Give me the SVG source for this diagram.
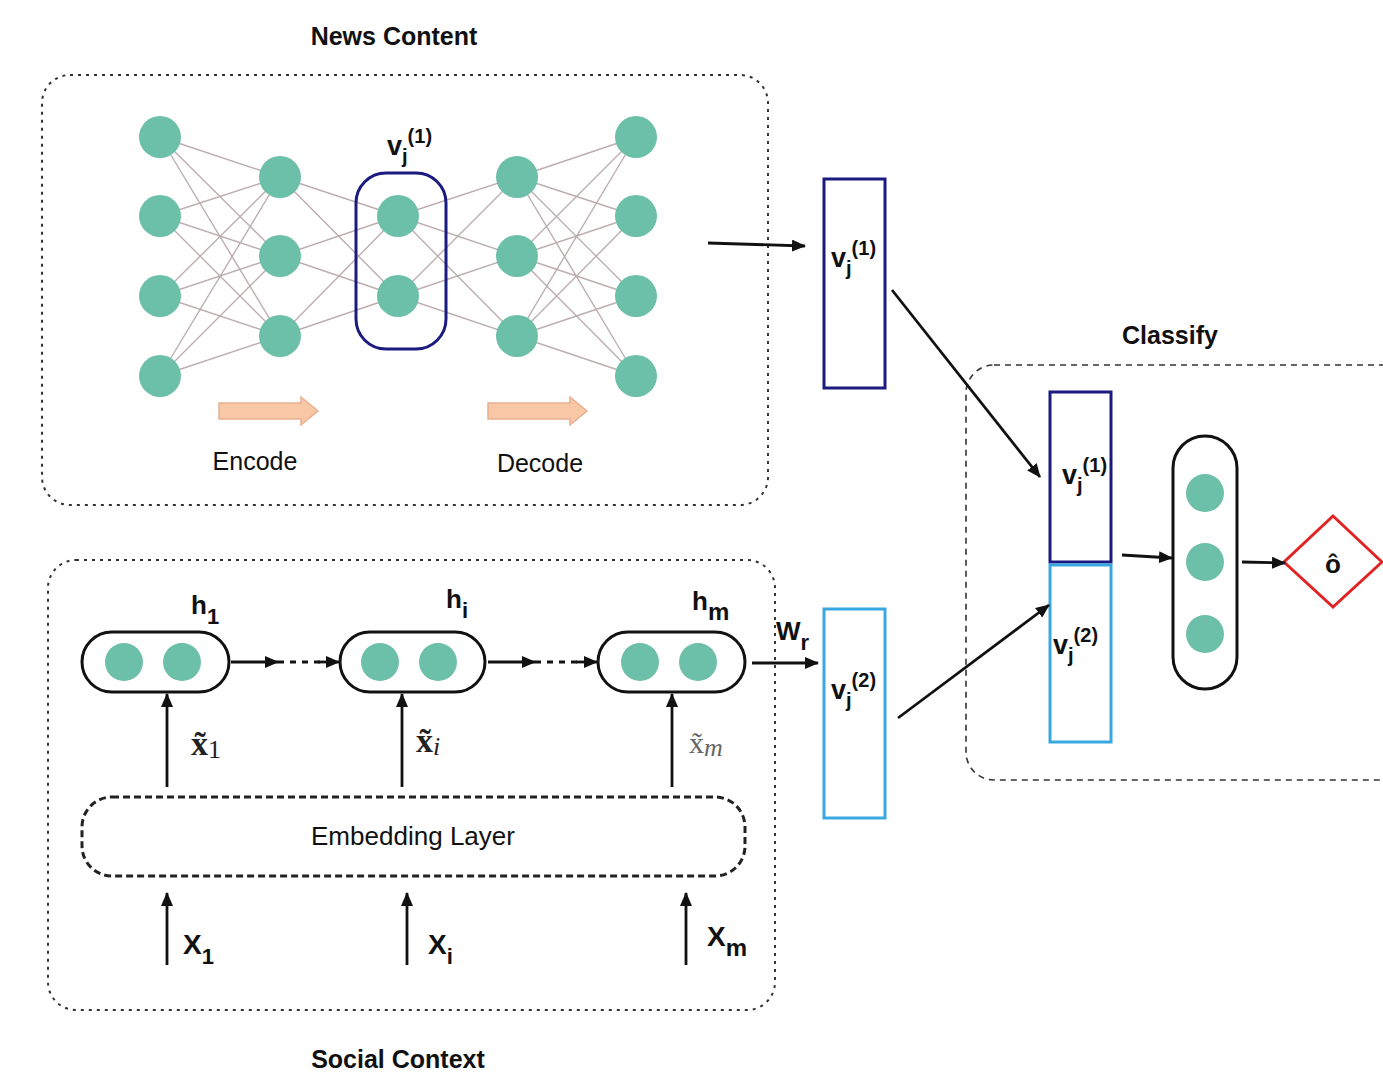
<svg xmlns="http://www.w3.org/2000/svg" width="1383" height="1078" viewBox="0 0 1383 1078">
<defs>
<style>
.t{font-family:"Liberation Sans",Arial,sans-serif;fill:#111}
.b{font-family:"Liberation Sans",Arial,sans-serif;font-weight:bold;fill:#111}
.m{font-family:"Liberation Serif","DejaVu Serif",serif;fill:#222}
.node{fill:#6cbfa8}
.edge{stroke:#bdaeb0;stroke-width:1.4;fill:none}
.conn{stroke:#111;stroke-width:2.8;fill:none}
.dotbox{fill:none;stroke:#333;stroke-width:2;stroke-dasharray:3 5}
.dashbox{fill:none;stroke:#333;stroke-width:1.6;stroke-dasharray:6 5}
.pill{fill:#fff;stroke:#111;stroke-width:3}
.blockarrow{fill:#f8c7a6;stroke:#e8b090;stroke-width:1.5}
</style>
<marker id="ah" viewBox="0 0 14 12" refX="13" refY="6" markerWidth="14" markerHeight="12" markerUnits="userSpaceOnUse" orient="auto">
<path d="M0 0L14 6L0 12Z" fill="#111"/>
</marker>
</defs>
<rect width="1383" height="1078" fill="#fff"/>

<g id="news-content">
<rect class="dotbox" x="42" y="75" width="726" height="430" rx="28"/>
<text class="b" x="394" y="45" font-size="25" text-anchor="middle">News Content</text>
<path class="edge" d="M160 137L280 177M160 137L280 256M160 137L280 336M160 216L280 177M160 216L280 256M160 216L280 336M160 296L280 177M160 296L280 256M160 296L280 336M160 376L280 177M160 376L280 256M160 376L280 336M280 177L398 216M280 177L398 296M280 256L398 216M280 256L398 296M280 336L398 216M280 336L398 296M398 216L517 177M398 216L517 256M398 216L517 336M398 296L517 177M398 296L517 256M398 296L517 336M517 177L636 137M517 177L636 216M517 177L636 296M517 177L636 376M517 256L636 137M517 256L636 216M517 256L636 296M517 256L636 376M517 336L636 137M517 336L636 216M517 336L636 296M517 336L636 376"/>
<g>
<circle class="node" cx="160" cy="137" r="21"/><circle class="node" cx="160" cy="216" r="21"/><circle class="node" cx="160" cy="296" r="21"/><circle class="node" cx="160" cy="376" r="21"/>
<circle class="node" cx="280" cy="177" r="21"/><circle class="node" cx="280" cy="256" r="21"/><circle class="node" cx="280" cy="336" r="21"/>
<circle class="node" cx="398" cy="216" r="21"/><circle class="node" cx="398" cy="296" r="21"/>
<circle class="node" cx="517" cy="177" r="21"/><circle class="node" cx="517" cy="256" r="21"/><circle class="node" cx="517" cy="336" r="21"/>
<circle class="node" cx="636" cy="137" r="21"/><circle class="node" cx="636" cy="216" r="21"/><circle class="node" cx="636" cy="296" r="21"/><circle class="node" cx="636" cy="376" r="21"/>
</g>
<rect x="356" y="173" width="90" height="176" rx="30" fill="none" stroke="#1a1a80" stroke-width="3"/>
<text class="b" x="387" y="155" font-size="27">v<tspan dy="8" font-size="20">j</tspan><tspan dy="-20" font-size="20">(1)</tspan></text>
<path class="blockarrow" d="M219 403H301V397L318 411L301 425V419H219Z"/>
<path class="blockarrow" d="M488 403H570V397L587 411L570 425V419H488Z"/>
<text class="t" x="255" y="470" font-size="25" text-anchor="middle">Encode</text>
<text class="t" x="540" y="472" font-size="25" text-anchor="middle">Decode</text>
</g>

<g id="v1-vector">
<rect x="824" y="179" width="61" height="209" fill="#fff" stroke="#1a1a80" stroke-width="3"/>
<text class="b" x="831" y="267" font-size="27">v<tspan dy="8" font-size="20">j</tspan><tspan dy="-20" font-size="20">(1)</tspan></text>
</g>

<g id="classify">
<rect class="dashbox" x="966" y="365" width="460" height="415" rx="28"/>
<text class="b" x="1170" y="344" font-size="25" text-anchor="middle">Classify</text>
<rect x="1050" y="392" width="61" height="170" fill="#fff" stroke="#1a1a80" stroke-width="3"/>
<rect x="1050" y="565" width="61" height="177" fill="#fff" stroke="#3aa8e0" stroke-width="3"/>
<text class="b" x="1062" y="484" font-size="27">v<tspan dy="8" font-size="20">j</tspan><tspan dy="-20" font-size="20">(1)</tspan></text>
<text class="b" x="1053" y="654" font-size="27">v<tspan dy="8" font-size="20">j</tspan><tspan dy="-20" font-size="20">(2)</tspan></text>
</g>

<g id="classifier-layer">
<rect class="pill" x="1173" y="436" width="64" height="253" rx="32"/>
<circle class="node" cx="1205" cy="493" r="19"/><circle class="node" cx="1205" cy="562" r="19"/><circle class="node" cx="1205" cy="634" r="19"/>
</g>

<g id="output">
<path d="M1333 516L1382 562L1333 607L1284 562Z" fill="#fff" stroke="#e02424" stroke-width="3"/>
<text class="b" x="1333" y="573" font-size="26" text-anchor="middle">ô</text>
</g>

<g id="social-context">
<rect class="dotbox" x="48" y="560" width="727" height="450" rx="28"/>
<text class="b" x="398" y="1068" font-size="25" text-anchor="middle">Social Context</text>
<rect x="82" y="797" width="663" height="79" rx="30" fill="none" stroke="#222" stroke-width="3" stroke-dasharray="7 4"/>
<text class="t" x="413" y="845" font-size="25" text-anchor="middle" textLength="204" lengthAdjust="spacingAndGlyphs">Embedding Layer</text>
</g>

<g id="h1">
<rect class="pill" x="82" y="632" width="147" height="60" rx="30"/>
<circle class="node" cx="124" cy="662" r="19"/><circle class="node" cx="182" cy="662" r="19"/>
<text class="b" x="191" y="614" font-size="26">h<tspan dy="10" font-size="22">1</tspan></text>
</g>
<g id="hi">
<rect class="pill" x="340" y="632" width="145" height="60" rx="30"/>
<circle class="node" cx="380" cy="662" r="19"/><circle class="node" cx="438" cy="662" r="19"/>
<text class="b" x="446" y="608" font-size="26">h<tspan dy="10" font-size="22">i</tspan></text>
</g>
<g id="hm">
<rect class="pill" x="598" y="632" width="147" height="60" rx="30"/>
<circle class="node" cx="640" cy="662" r="19"/><circle class="node" cx="698" cy="662" r="19"/>
<text class="b" x="692" y="610" font-size="26">h<tspan dy="10" font-size="24">m</tspan></text>
</g>

<g id="v2-vector">
<rect x="824" y="609" width="61" height="209" fill="#fff" stroke="#3aa8e0" stroke-width="3"/>
<text class="b" x="831" y="699" font-size="27">v<tspan dy="8" font-size="20">j</tspan><tspan dy="-20" font-size="20">(2)</tspan></text>
</g>

<g id="labels">
<text class="b" x="776" y="640" font-size="26">W<tspan dy="10" font-size="22">r</tspan></text>
<text class="m" x="191" y="755" font-size="34" font-weight="bold">x̃<tspan dy="3" font-size="26" font-weight="normal">1</tspan></text>
<text class="m" x="416" y="752" font-size="34" font-weight="bold">x̃<tspan dy="3" font-size="26" font-style="italic" font-weight="normal">i</tspan></text>
<text class="m" x="689" y="753" font-size="30" style="fill:#666">x̃<tspan dy="3" font-size="26" font-style="italic">m</tspan></text>
<text class="b" x="183" y="954" font-size="28">X<tspan dy="10" font-size="22">1</tspan></text>
<text class="b" x="428" y="954" font-size="28">X<tspan dy="10" font-size="22">i</tspan></text>
<text class="b" x="707" y="946" font-size="28">X<tspan dy="10" font-size="24">m</tspan></text>
</g>

<g id="connectors">
<path class="conn" d="M708 243L805 246" marker-end="url(#ah)"/>
<path class="conn" d="M892 290L1040 477" marker-end="url(#ah)"/>
<path class="conn" d="M898 718L1049 605" marker-end="url(#ah)"/>
<path class="conn" d="M1122 555L1172 558" marker-end="url(#ah)"/>
<path class="conn" d="M1242 562L1285 563" marker-end="url(#ah)"/>
<path class="conn" d="M752 663L818 663" marker-end="url(#ah)"/>
<path class="conn" d="M231 662L278 662" marker-end="url(#ah)"/>
<path class="conn" d="M278 662L322 662" stroke-dasharray="6 6"/>
<path class="conn" d="M318 662L339 662" marker-end="url(#ah)"/>
<path class="conn" d="M488 662L535 662" marker-end="url(#ah)"/>
<path class="conn" d="M535 662L578 662" stroke-dasharray="6 6"/>
<path class="conn" d="M576 662L597 662" marker-end="url(#ah)"/>
<path class="conn" d="M167 787L167 694" marker-end="url(#ah)"/>
<path class="conn" d="M402 787L402 694" marker-end="url(#ah)"/>
<path class="conn" d="M672 787L672 694" marker-end="url(#ah)"/>
<path class="conn" d="M167 965L167 893" marker-end="url(#ah)"/>
<path class="conn" d="M407 965L407 893" marker-end="url(#ah)"/>
<path class="conn" d="M686 965L686 893" marker-end="url(#ah)"/>
</g>
</svg>
